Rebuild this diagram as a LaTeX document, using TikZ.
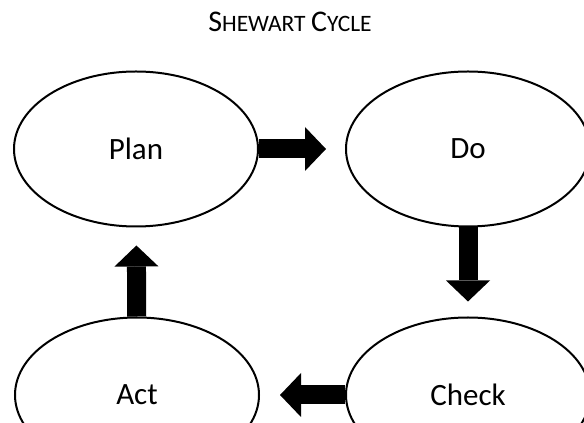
\documentclass[tikz,border=0pt]{standalone}
\usepackage{fontspec}
\setmainfont{Carlito}
\usetikzlibrary{arrows.meta,shapes.geometric}
\newcommand{\capsc}[2]{{\fontsize{30}{30}\selectfont #1}{\fontsize{23.5}{24}\selectfont #2}}

\begin{document}
\begin{tikzpicture}[x=1pt, y=1pt,
    stage/.style={ellipse, draw, line width=2pt, fill=white, inner sep=0pt,
      minimum width=244pt, minimum height=155pt, font=\fontsize{31}{32}\selectfont},
    blockarrow/.style={line width=19pt, -{Triangle[width=44pt, length=21pt, line width=0pt]}}]
  \useasboundingbox (0,0) rectangle (584,423);
  \node[font=\fontsize{24}{24}\selectfont] (title) at (290,401) {\capsc{S}{HEWART} \capsc{C}{YCLE}};
  % stages
  \node[stage] (plan) at (136,274) {Plan};
  \node[stage] (do) at (468,274) {Do};
  \node[stage] (check) at (468,28) {Check};
  \node[stage] (act) at (137,28) {Act};
  % block arrows between the stages
  \draw[blockarrow, shorten >=19pt] (plan) -- (do);
  \draw[blockarrow, shorten >=15pt] (do) -- (check);
  \draw[blockarrow, shorten >=20pt] (check) -- (act);
  \draw[blockarrow, shorten >=18pt] (act) -- (plan);
\end{tikzpicture}
\end{document}
